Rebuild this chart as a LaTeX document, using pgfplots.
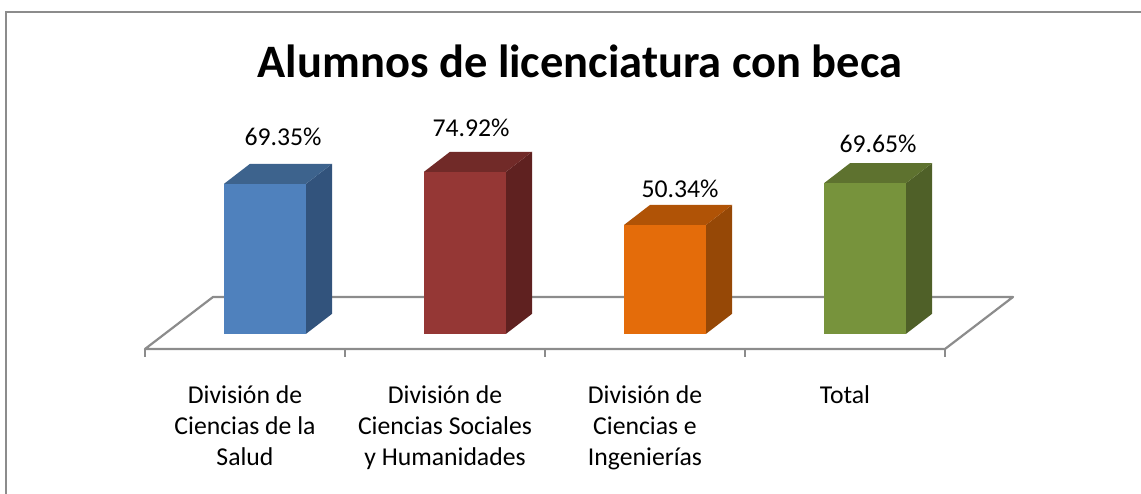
\documentclass[border=0pt]{standalone}
\usepackage{fontspec}
\setmainfont{Carlito}
\usepackage{pgfplots}
\pgfplotsset{compat=1.18}
\definecolor{bluefront}{RGB}{79,129,189}
\definecolor{blueside}{RGB}{50,83,124}
\definecolor{bluetop}{RGB}{61,99,141}
\definecolor{redfront}{RGB}{149,55,53}
\definecolor{redside}{RGB}{95,33,32}
\definecolor{redtop}{RGB}{113,42,40}
\definecolor{orangefront}{RGB}{228,108,10}
\definecolor{orangeside}{RGB}{150,72,6}
\definecolor{orangetop}{RGB}{176,83,6}
\definecolor{greenfront}{RGB}{119,147,60}
\definecolor{greenside}{RGB}{79,96,40}
\definecolor{greentop}{RGB}{94,114,47}
\definecolor{floorgray}{RGB}{140,140,140}
\newcommand\lblfont{\fontsize{25.7}{31}\selectfont}

\begin{document}
\begin{tikzpicture}
\useasboundingbox (0,0) rectangle (1141pt,494pt);
\draw[floorgray, line width=2pt] (6pt,-10pt) -- (6pt,482pt) -- (1150pt,482pt);
\node[font=\fontsize{46.5}{56}\selectfont\bfseries, anchor=base] at (580pt,416pt) {Alumnos de licenciatura con beca};
\begin{axis}[
  at={(145pt,145pt)}, anchor=south west,
  scale only axis, width=800pt, height=188.2pt,
  xmin=-0.5, xmax=3.5, ymin=-7, ymax=80,
  axis line style={draw=none},
  major tick style={draw=none},
  ytick=\empty,
  xtick={0,1,2,3},
  xticklabels={{División de\\Ciencias de la\\Salud},{División de\\Ciencias Sociales\\y Humanidades},{División de\\Ciencias e\\Ingenierías},Total},
  xticklabel style={align=center, font=\lblfont, inner sep=0pt, anchor=north, yshift=-36pt},
  clip=false,
]
% floor
\draw[floorgray, line width=2.2pt, line join=round] (axis cs:-0.5,-7) -- (axis cs:3.5,-7) -- (axis cs:3.84,17.04) -- (axis cs:-0.16,17.04) -- cycle;
\pgfplotsinvokeforeach{-0.5,0.5,1.5,2.5,3.5}{
  \draw[floorgray, line width=2.2pt] (axis cs:#1,-7) -- (axis cs:#1,-10.7);
}
% blue
\addplot[draw=none, fill=blueside] coordinates {(0.305,0) (0.435,9.25) (0.435,78.60) (0.305,69.35)};
\addplot[draw=none, fill=bluetop] coordinates {(-0.105,69.35) (0.305,69.35) (0.435,78.60) (0.025,78.60)};
\addplot[ybar, bar width=0.41, bar shift=0.1, fill=bluefront, draw=none, point meta=explicit symbolic, nodes near coords,
  every node near coord/.append style={font=\lblfont, anchor=center, xshift=38pt, yshift=47pt}]
  coordinates {(0,69.35) [69.35\%]};
% red
\addplot[draw=none, fill=redside] coordinates {(1.305,0) (1.435,9.25) (1.435,84.17) (1.305,74.92)};
\addplot[draw=none, fill=redtop] coordinates {(0.895,74.92) (1.305,74.92) (1.435,84.17) (1.025,84.17)};
\addplot[ybar, bar width=0.41, bar shift=0.1, fill=redfront, draw=none, point meta=explicit symbolic, nodes near coords,
  every node near coord/.append style={font=\lblfont, anchor=center, xshift=26pt, yshift=43.7pt}]
  coordinates {(1,74.92) [74.92\%]};
% orange
\addplot[draw=none, fill=orangeside] coordinates {(2.305,0) (2.435,9.25) (2.435,59.59) (2.305,50.34)};
\addplot[draw=none, fill=orangetop] coordinates {(1.895,50.34) (2.305,50.34) (2.435,59.59) (2.025,59.59)};
\addplot[ybar, bar width=0.41, bar shift=0.1, fill=orangefront, draw=none, point meta=explicit symbolic, nodes near coords,
  every node near coord/.append style={font=\lblfont, anchor=center, xshift=35pt, yshift=36pt}]
  coordinates {(2,50.34) [50.34\%]};
% green
\addplot[draw=none, fill=greenside] coordinates {(3.305,0) (3.435,9.25) (3.435,78.90) (3.305,69.65)};
\addplot[draw=none, fill=greentop] coordinates {(2.895,69.65) (3.305,69.65) (3.435,78.90) (3.025,78.90)};
\addplot[ybar, bar width=0.41, bar shift=0.1, fill=greenfront, draw=none, point meta=explicit symbolic, nodes near coords,
  every node near coord/.append style={font=\lblfont, anchor=center, xshift=33pt, yshift=39pt}]
  coordinates {(3,69.65) [69.65\%]};
\end{axis}
\end{tikzpicture}
\end{document}
